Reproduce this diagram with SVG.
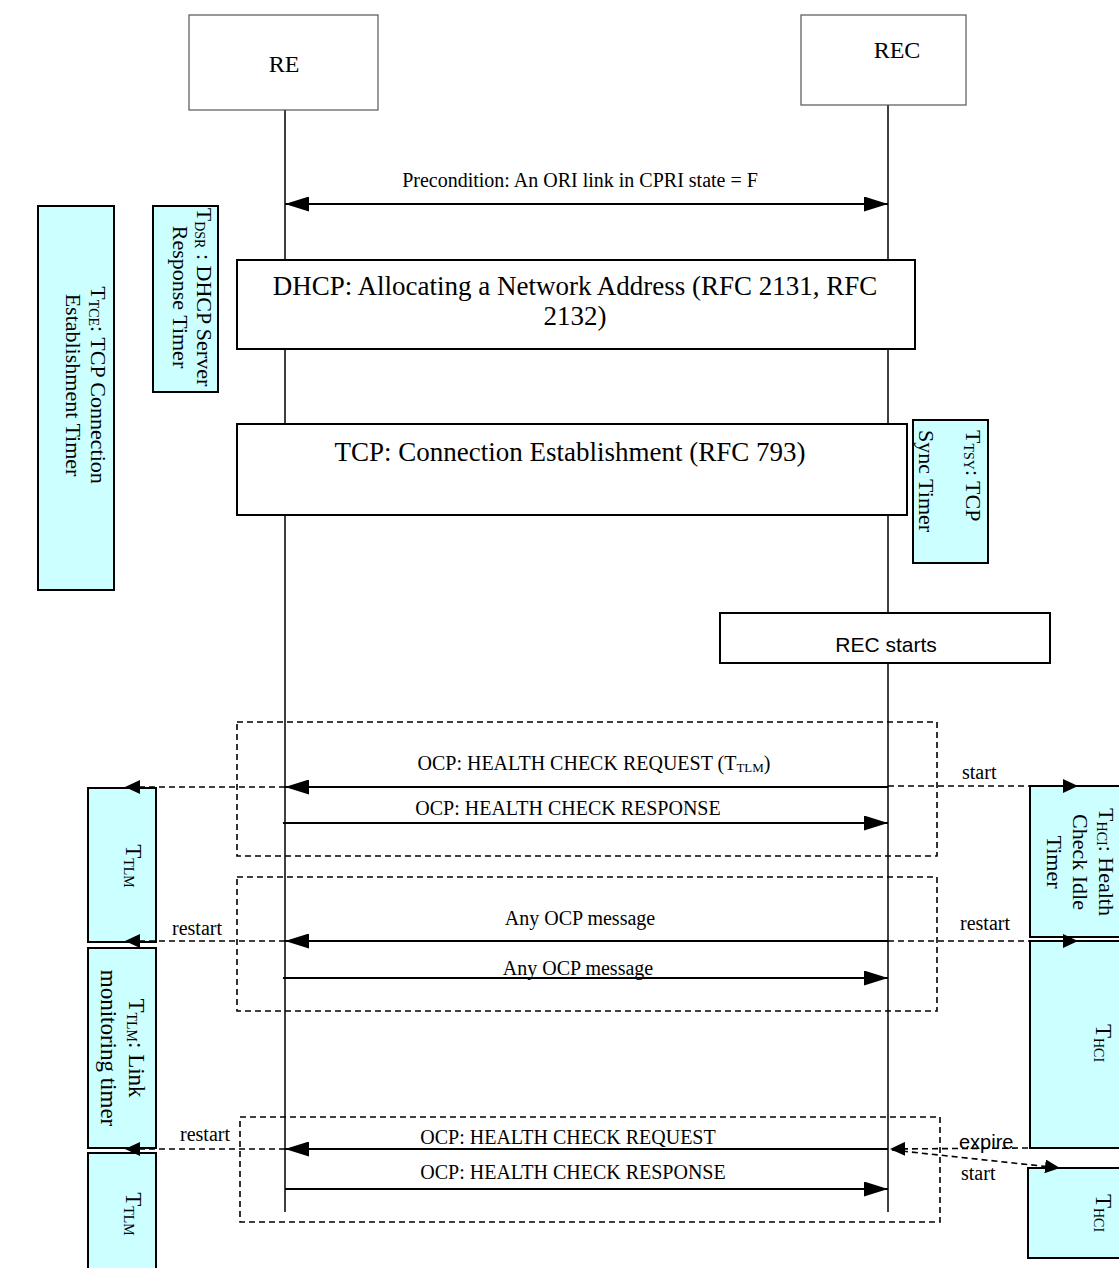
<svg xmlns="http://www.w3.org/2000/svg" width="1119" height="1268" viewBox="0 0 1119 1268">
<style>
.t{font-family:"Liberation Serif","Times New Roman",serif;fill:#000}
.a{font-family:"Liberation Sans",Arial,sans-serif;fill:#000}
.lbl{font-size:20px}
.big{font-size:27px}
.tm{font-family:"Liberation Serif","Times New Roman",serif;font-size:22px;fill:#000;text-anchor:middle}
.tl{font-size:23px}
.sub{font-size:14px}
.hdr{fill:#fff;stroke:#555;stroke-width:1.2}
.blk{fill:#fff;stroke:#000;stroke-width:2}
.tmr{fill:#ccffff;stroke:#000;stroke-width:2}
.life{stroke:#000;stroke-width:1.5;fill:none}
.msg{stroke:#000;stroke-width:2;fill:none}
.dash{stroke:#000;stroke-width:1.6;stroke-dasharray:6 4;fill:none}
</style>
<defs>
<marker id="ah" viewBox="0 0 24 15" refX="24" refY="7.5" markerWidth="24" markerHeight="15" markerUnits="userSpaceOnUse" orient="auto-start-reverse"><path d="M0,0 L24,7.5 L0,15 z" fill="#000"/></marker>
<marker id="sh" viewBox="0 0 15 14" refX="15" refY="7" markerWidth="15" markerHeight="14" markerUnits="userSpaceOnUse" orient="auto"><path d="M0,0 L15,7 L0,14 z" fill="#000"/></marker>
</defs>
<rect width="1119" height="1268" fill="#fff"/>

<g id="lifelines">
<line class="life" x1="285" y1="110" x2="285" y2="1212"/>
<line class="life" x1="888" y1="105" x2="888" y2="1212"/>
</g>

<g id="RE"><rect class="hdr" x="189" y="15" width="189" height="95"/><text class="t" x="284" y="72" font-size="24" text-anchor="middle">RE</text></g>
<g id="REC"><rect class="hdr" x="801" y="15" width="165" height="90"/><text class="t" x="897" y="58" font-size="24" text-anchor="middle">REC</text></g>

<g id="DHCP"><rect class="blk" x="237" y="260" width="678" height="89"/>
<text class="t big" text-anchor="middle"><tspan x="575" y="295">DHCP: Allocating a Network Address (RFC 2131, RFC</tspan><tspan x="575" y="325">2132)</tspan></text></g>

<g id="TCP"><rect class="blk" x="237" y="424" width="670" height="91"/>
<text class="t big" x="570" y="461" text-anchor="middle">TCP: Connection Establishment (RFC 793)</text></g>

<g id="RECstarts"><rect class="blk" x="720" y="613" width="330" height="50"/>
<text class="a" x="886" y="652" font-size="21" text-anchor="middle">REC starts</text></g>

<g id="groups">
<rect class="dash" x="237" y="722" width="700" height="134"/>
<rect class="dash" x="237" y="877" width="700" height="134"/>
<rect class="dash" x="240" y="1117" width="700" height="105"/>
</g>

<g id="TTCE"><rect class="tmr" x="38" y="206" width="76" height="384"/>
<text class="tm" transform="translate(91,385) rotate(90)"><tspan x="0" y="0">T<tspan class="sub" dy="2">TCE</tspan><tspan dy="-2">: TCP Connection</tspan></tspan><tspan x="0" dy="25">Establishment Timer</tspan></text></g>

<g id="TDSR"><rect class="tmr" x="153" y="206" width="65" height="186"/>
<text class="tm" font-size="21" transform="translate(197,297) rotate(90)"><tspan x="0" y="0">T<tspan class="sub" dy="2">DSR</tspan><tspan dy="-2"> : DHCP Server</tspan></tspan><tspan x="0" dy="24">Response Timer</tspan></text></g>

<g id="TTSY"><rect class="tmr" x="913" y="420" width="75" height="143"/>
<text class="tm" style="text-anchor:start" transform="translate(966,430) rotate(90)"><tspan x="0" y="0">T<tspan class="sub" dy="2">TSY</tspan><tspan dy="-2">: TCP</tspan></tspan><tspan x="0" dy="47">Sync Timer</tspan></text></g>

<g id="TTLM1"><rect class="tmr" x="88" y="788" width="68" height="154"/>
<text class="tm tl" transform="translate(126,866) rotate(90)">T<tspan class="sub" font-size="15" dy="2">TLM</tspan></text></g>
<g id="TTLM2"><rect class="tmr" x="88" y="948" width="68" height="200"/>
<text class="tm tl" transform="translate(129,1048) rotate(90)"><tspan x="0" y="0">T<tspan class="sub" dy="2">TLM</tspan><tspan dy="-2">: Link</tspan></tspan><tspan x="0" dy="28">monitoring timer</tspan></text></g>
<g id="TTLM3"><rect class="tmr" x="88" y="1153" width="68" height="125"/>
<text class="tm tl" transform="translate(126,1214) rotate(90)">T<tspan class="sub" font-size="15" dy="2">TLM</tspan></text></g>

<g id="THCI1"><rect class="tmr" x="1030" y="786" width="100" height="151"/>
<text class="tm" transform="translate(1099,862) rotate(90)"><tspan x="0" y="0">T<tspan class="sub" dy="2">HCI</tspan><tspan dy="-2">: Health</tspan></tspan><tspan x="0" dy="26">Check Idle</tspan><tspan x="0" dy="26">Timer</tspan></text></g>
<g id="THCI2"><rect class="tmr" x="1030" y="941" width="100" height="207"/>
<text class="tm tl" transform="translate(1096,1043) rotate(90)">T<tspan class="sub" font-size="15" dy="2">HCI</tspan></text></g>
<g id="THCI3"><rect class="tmr" x="1028" y="1168" width="100" height="90"/>
<text class="tm tl" transform="translate(1096,1213) rotate(90)">T<tspan class="sub" font-size="15" dy="2">HCI</tspan></text></g>

<g id="connectors">
<line class="msg" x1="285" y1="204" x2="888" y2="204" stroke-width="2.5" marker-start="url(#ah)" marker-end="url(#ah)"/>
<line class="msg" x1="888" y1="787" x2="285" y2="787" marker-end="url(#ah)"/>
<line class="msg" x1="283" y1="823" x2="888" y2="823" marker-end="url(#ah)"/>
<line class="msg" x1="888" y1="941" x2="285" y2="941" marker-end="url(#ah)"/>
<line class="msg" x1="283" y1="978" x2="888" y2="978" marker-end="url(#ah)"/>
<line class="msg" x1="888" y1="1149" x2="285" y2="1149" marker-end="url(#ah)"/>
<line class="msg" x1="285" y1="1189" x2="888" y2="1189" marker-end="url(#ah)"/>
<line class="dash" x1="285" y1="787" x2="125" y2="787" marker-end="url(#sh)"/>
<line class="dash" x1="888" y1="786" x2="1078" y2="786" marker-end="url(#sh)"/>
<line class="dash" x1="285" y1="941" x2="125" y2="941" marker-end="url(#sh)"/>
<line class="dash" x1="888" y1="941" x2="1078" y2="941" marker-end="url(#sh)"/>
<line class="dash" x1="285" y1="1149" x2="125" y2="1149" marker-end="url(#sh)"/>
<line class="dash" x1="1028" y1="1148" x2="890" y2="1149" marker-end="url(#sh)"/>
<line class="dash" x1="892" y1="1150" x2="1060" y2="1168" marker-end="url(#sh)"/>
</g>

<g id="labels">
<text class="t lbl" x="580" y="187" text-anchor="middle">Precondition: An ORI link in CPRI state = F</text>
<text class="t lbl" x="594" y="770" text-anchor="middle">OCP: HEALTH CHECK REQUEST (T<tspan font-size="13" dy="2">TLM</tspan><tspan dy="-2">)</tspan></text>
<text class="t lbl" x="568" y="815" text-anchor="middle">OCP: HEALTH CHECK RESPONSE</text>
<text class="t lbl" x="580" y="925" text-anchor="middle">Any OCP message</text>
<text class="t lbl" x="578" y="975" text-anchor="middle">Any OCP message</text>
<text class="t lbl" x="568" y="1144" text-anchor="middle">OCP: HEALTH CHECK REQUEST</text>
<text class="t lbl" x="573" y="1179" text-anchor="middle">OCP: HEALTH CHECK RESPONSE</text>
<text class="t lbl" x="962" y="779">start</text>
<text class="t lbl" x="960" y="930">restart</text>
<text class="t lbl" x="172" y="935">restart</text>
<text class="t lbl" x="180" y="1141">restart</text>
<text class="a lbl" x="959" y="1149">expire</text>
<text class="t lbl" x="961" y="1180">start</text>
</g>
</svg>
